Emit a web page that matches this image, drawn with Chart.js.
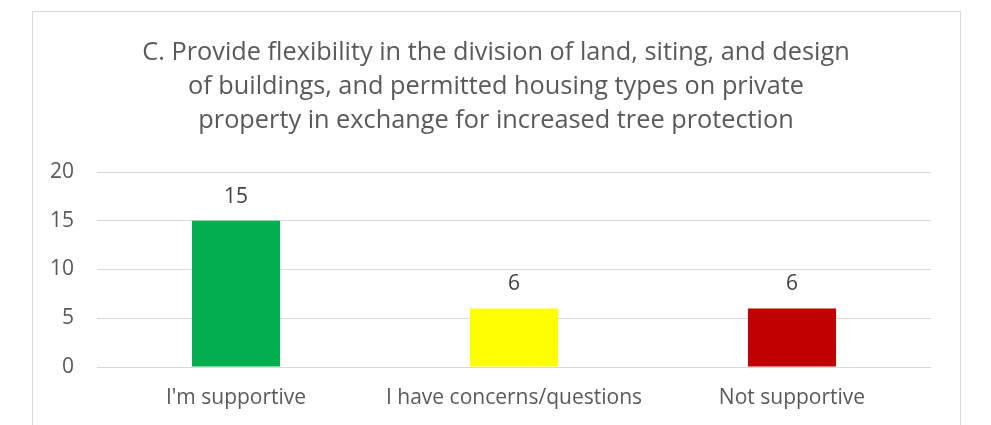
<!DOCTYPE html>
<html>
<head>
<meta charset="utf-8">
<script src="https://cdn.jsdelivr.net/npm/chart.js@4"></script>
<style>
    body { margin: 0; background: #fff; }
    #frame {
        position: absolute; left: 32px; top: 11px;
        width: 929px; height: 440px;
        box-sizing: border-box;
        border: 1px solid #d9d9d9;
    }
    #wrap { position: absolute; left: 0; top: 0; width: 991px; height: 425px; }
</style>
</head>
<body>
<div id="frame"></div>
<div id="wrap"><canvas id="myChart"></canvas></div>
<script>
const titleLines = [
    'C. Provide flexibility in the division of land, siting, and design',
    'of buildings, and permitted housing types on private',
    'property in exchange for increased tree protection'
];
const categories = ["I'm supportive", 'I have concerns/questions', 'Not supportive'];
const responses = [15, 6, 6];
const barColors = ['#00B050', '#FFFF00', '#C00000'];
const yTicks = { min: 0, max: 20, step: 5 };

const textColor = '#595959';
const fontFamily = '"Open Sans", sans-serif';

// value labels above each bar
const valueLabels = {
    id: 'valueLabels',
    afterDatasetsDraw(chart) {
        const ctx = chart.ctx;
        const meta = chart.getDatasetMeta(0);
        ctx.save();
        ctx.font = '21px ' + fontFamily;
        ctx.fillStyle = '#404040';
        ctx.textAlign = 'center';
        ctx.textBaseline = 'middle';
        meta.data.forEach((bar, i) => {
            ctx.fillText(String(responses[i]), bar.x, bar.y - 24);
        });
        ctx.restore();
    }
};

new Chart(document.getElementById('myChart'), {
    type: 'bar',
    data: {
        labels: categories,
        datasets: [{
            data: responses,
            backgroundColor: barColors,
            borderWidth: 0,
            barPercentage: 0.317,
            categoryPercentage: 1
        }]
    },
    options: {
        responsive: true,
        maintainAspectRatio: false,
        animation: false,
        layout: { padding: { left: 41, right: 40, top: 0, bottom: 0 } },
        plugins: {
            legend: { display: false },
            tooltip: { enabled: false },
            title: {
                display: true,
                text: titleLines,
                color: textColor,
                font: { family: fontFamily, size: 25.3, weight: 'normal', lineHeight: '34px' },
                padding: { top: 36, bottom: 34 }
            }
        },
        scales: {
            x: {
                grid: { display: false, drawTicks: false },
                border: { display: false },
                ticks: {
                    color: textColor,
                    padding: 18,
                    maxRotation: 0,
                    font: { family: fontFamily, size: 21 }
                },
                afterFit(scale) { scale.height = 58; }
            },
            y: {
                min: yTicks.min,
                max: yTicks.max,
                grid: { color: '#d9d9d9', lineWidth: 1, drawTicks: false },
                border: { display: false },
                ticks: {
                    stepSize: yTicks.step,
                    color: textColor,
                    padding: 23,
                    font: { family: fontFamily, size: 21 }
                },
                afterFit(scale) { scale.width = 56; }
            },
            // empty right-hand axis, only keeps the title centred on the frame
            yRight: {
                position: 'right',
                grid: { display: false, drawTicks: false },
                border: { display: false },
                ticks: { display: false },
                afterFit(scale) { scale.width = 20; }
            }
        }
    },
    plugins: [valueLabels]
});
</script>
</body>
</html>
